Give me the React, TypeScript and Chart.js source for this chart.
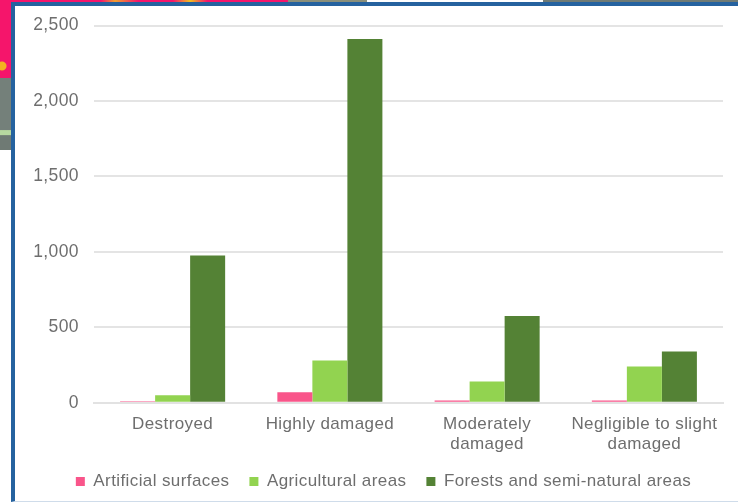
import React, { useEffect, useRef } from "react";
import { Chart, registerables } from "chart.js";

Chart.register(...registerables);

const categories = [["Destroyed"], ["Highly damaged"], ["Moderately", "damaged"], ["Negligible to slight", "damaged"]];
const artificial = [10, 70, 15, 15];
const agricultural = [50, 280, 140, 240];
const forests = [975, 2410, 575, 340];

const FONT = "'Liberation Sans', Arial, sans-serif";
const TEXT = "#6e6e6e";
const LEGEND_LIFT = 4.5;

const tweaks = {
  id: "tweaks",
  beforeLayout(c: any) { c.ctx.letterSpacing = "0.4px"; },
  afterLayout(c: any) {
    // the legend is centred on the plot plus the tick column, and sits closer to the axis labels
    c.legend.left += 8;
    c.legend.right += 8;
    c.legend.top -= LEGEND_LIFT;
    c.legend.bottom -= LEGEND_LIFT;
  },
  beforeDraw(c: any) { c.ctx.letterSpacing = "0.4px"; },
};

export default function App() {
  const ref = useRef<HTMLCanvasElement>(null);
  useEffect(() => {
    document.body.style.margin = "0";
    const chart = new Chart(ref.current!, {
      type: "bar",
      plugins: [tweaks],
      data: {
        labels: categories,
        datasets: [
          { label: "Artificial surfaces", data: artificial, backgroundColor: "#f9558a" },
          { label: "Agricultural areas", data: agricultural, backgroundColor: "#92d350" },
          { label: "Forests and semi-natural areas", data: forests, backgroundColor: "#548235" },
        ],
      },
      options: {
        responsive: false,
        animation: false,
        layout: { padding: { left: 28, right: 15, top: 20.5, bottom: 2 - LEGEND_LIFT } },
        datasets: { bar: { categoryPercentage: 0.668, barPercentage: 1 } },
        plugins: {
          tooltip: { enabled: false },
          legend: {
            position: "bottom",
            labels: {
              usePointStyle: true,
              pointStyle: "rect",
              boxWidth: 9,
              boxHeight: 9,
              padding: 20,
              color: TEXT,
              font: { family: FONT, size: 17 },
            },
          },
        },
        scales: {
          x: {
            grid: { display: false },
            border: { color: "#e2e2e2", width: 2 },
            ticks: { color: TEXT, font: { family: FONT, size: 17, lineHeight: 1.2 }, maxRotation: 0, padding: 3 },
          },
          y: {
            min: 0,
            max: 2500,
            afterFit: (s: any) => { s.width = 66; },
            grid: { color: "#e4e4e4", lineWidth: 2, drawTicks: false },
            border: { display: false },
            ticks: {
              stepSize: 500,
              color: TEXT,
              padding: 15,
              font: { family: FONT, size: 17.5 },
              callback: (v: any) => Number(v).toLocaleString("en-US"),
            },
          },
        },
      },
    });
    return () => chart.destroy();
  }, []);
  return (
    <div style={{ position: "relative", width: 738, height: 502, overflow: "hidden", background: "#fff" }}>
      <div style={{ position: "absolute", left: 0, top: 0, width: 288, height: 4, background: "linear-gradient(90deg,#f5156b 0 35%,#f0a030 40%,#f5156b 48% 60%,#f0c020 66%,#f5156b 72%)" }} />
      <div style={{ position: "absolute", left: 288, top: 0, width: 79, height: 4, background: "#8a8f7a" }} />
      <div style={{ position: "absolute", left: 543, top: 0, width: 195, height: 4, background: "#6f7a74" }} />
      <div style={{ position: "absolute", left: 0, top: 0, width: 12, height: 80, background: "radial-gradient(circle 5px at 2px 66px,#f3b020 0 80%,transparent 100%),#f5156b" }} />
      <div style={{ position: "absolute", left: 0, top: 78, width: 12, height: 72, background: "linear-gradient(180deg,#74807a 0 72%,#b7d8a0 73% 79%,#6f7a74 80%)" }} />
      <div style={{ position: "absolute", left: 11, top: 2, right: -4, bottom: 0, borderLeft: "4px solid #25629f", borderTop: "4px solid #25629f", borderBottom: "1px solid #cfdcea", background: "#fff" }} />
      <canvas ref={ref} width={738} height={502} style={{ position: "absolute", left: 0, top: 0, width: 738, height: 502, filter: "blur(0.4px)" }} />
    </div>
  );
}
